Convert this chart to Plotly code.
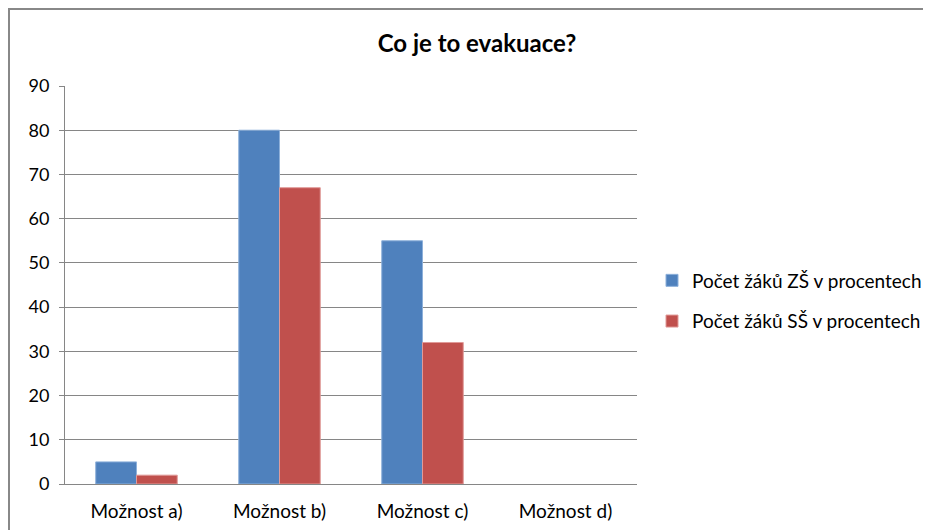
import plotly.graph_objects as go

categories = ["Možnost a)", "Možnost b)", "Možnost c)", "Možnost d)"]
zs_values = [5, 80, 55, 0]
ss_values = [2, 67, 32, 0]
series_names = ["Počet žáků ZŠ v procentech", "Počet žáků SŠ v procentech"]
y_ticks = [0, 10, 20, 30, 40, 50, 60, 70, 80, 90]

W, H = 931, 530
OFF = 8  # page body margin
L, R, T, B = 65 - OFF, 637 - OFF, 86 - OFF, 484 - OFF

zs_edge = [1 if v > 0 else 0 for v in zs_values]
ss_edge = [1 if v > 0 else 0 for v in ss_values]

fig = go.Figure()
fig.add_trace(go.Bar(x=categories, y=zs_values, name=series_names[0], legendgroup="g1",
                     marker=dict(color="#4F81BD", line=dict(color="#8DB0DA", width=zs_edge))))
fig.add_trace(go.Bar(x=categories, y=ss_values, name=series_names[1], legendgroup="g2",
                     marker=dict(color="#C0504D", line=dict(color="#E09A98", width=ss_edge))))

pw = R - L
ph = B - T
fig.update_layout(
    width=W, height=H,
    margin=dict(l=L, r=W - R, t=T, b=H - B, pad=0, autoexpand=False),
    paper_bgcolor="white", plot_bgcolor="white",
    font=dict(family="Lato, 'Open Sans', sans-serif", size=19, color="#000000"),
    title=dict(text="<b>Co je to evakuace?</b>", x=(477 - OFF) / W, xanchor="center",
               y=1 - (44 - OFF) / H, yanchor="middle", font=dict(size=24)),
    barmode="group", bargap=0.43, bargroupgap=0,
    showlegend=True,
    legend=dict(x=(652 - OFF - L) / pw, y=(B - (301 - OFF)) / ph, xanchor="left", yanchor="middle",
                font=dict(size=19), tracegroupgap=13, itemwidth=30,
                bgcolor="rgba(0,0,0,0)"),
    xaxis=dict(showline=True, linecolor="#868686", linewidth=1, ticks="",
               tickfont=dict(size=19), showgrid=False, fixedrange=True,
               ticklabelstandoff=10),
    yaxis=dict(range=[0, 90], tickvals=y_ticks, showgrid=True, gridcolor="#868686",
               gridwidth=1, showline=True, linecolor="#868686", linewidth=1,
               ticks="outside", ticklen=5, tickcolor="#868686", zeroline=False,
               tickfont=dict(size=18), ticklabelstandoff=6),
)

# outer chart border
fig.add_shape(type="rect", xref="paper", yref="paper",
              x0=(1 - L) / pw, x1=(W + 5 - L) / pw,
              y0=(B - (H + 5)) / ph, y1=(B - 1) / ph,
              line=dict(color="#888888", width=2), fillcolor="rgba(0,0,0,0)", layer="below")

fig.write_html("out.html")
